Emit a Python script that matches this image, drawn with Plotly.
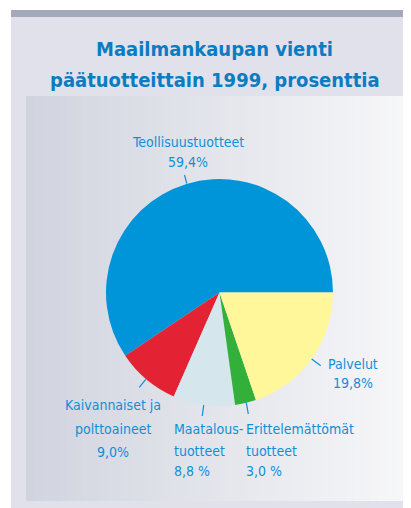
import plotly.graph_objects as go

# Page has an 8px body margin; figure sized so that it exactly fills the 411x508 window
PAGE_W, PAGE_H = 411, 508
OFF = 8
FW, FH = PAGE_W - OFF, PAGE_H - OFF

categories = ["Teollisuustuotteet", "Kaivannaiset ja polttoaineet", "Maatalous-tuotteet",
              "Erittelemättömät tuotteet", "Palvelut"]
values = [59.4, 9.0, 8.8, 3.0, 19.8]
value_labels = ["59,4%", "9,0%", "8,8 %", "3,0 %", "19,8%"]
label_lines = [["Teollisuustuotteet"], ["Kaivannaiset ja", "polttoaineet"],
               ["Maatalous-", "tuotteet"], ["Erittelemättömät", "tuotteet"], ["Palvelut"]]
colors = ["#0094d8", "#e32333", "#d5e6ed", "#33b03a", "#fff799"]
title_lines = ["Maailmankaupan vienti", "päätuotteittain 1999, prosenttia"]

LABEL_BLUE = "#0f8fd6"
TITLE_BLUE = "#0a7cc4"
FONT = "Liberation Sans Narrow, DejaVu Sans Condensed, Arial Narrow, sans-serif"


def px(x):
    """page pixel x -> paper fraction"""
    return (x - OFF) / FW


def py(y):
    """page pixel y -> paper fraction"""
    return 1 - (y - OFF) / FH


# pie geometry in page pixels
cx, cy, r = 219.5, 292.5, 113.5

# first slice should run counterclockwise starting at 3 o'clock
rotation = 90 - values[0] / sum(values) * 360

fig = go.Figure()
fig.add_trace(go.Pie(
    values=values,
    labels=categories,
    marker=dict(colors=colors, line=dict(width=0)),
    sort=False,
    direction="counterclockwise",
    rotation=rotation,
    textinfo="none",
    hoverinfo="label+value",
    showlegend=False,
    domain=dict(x=[px(cx - r), px(cx + r)], y=[py(cy + r), py(cy - r)]),
))

shapes = []
# outer panel and dark top bar
shapes.append(dict(type="rect", xref="paper", yref="paper", x0=px(11), x1=px(411),
                   y0=py(508), y1=py(10), fillcolor="#e0e1ea", line=dict(width=0), layer="below"))
shapes.append(dict(type="rect", xref="paper", yref="paper", x0=px(11), x1=px(411),
                   y0=py(17), y1=py(10), fillcolor="#a3a9ba", line=dict(width=0), layer="below"))
# inner gradient panel (stripes)
n = 48
x_start, x_end = 26, 408
c0 = (0xd1, 0xd4, 0xdf)
c1 = (0xf7, 0xf7, 0xf9)
for i in range(n):
    t = i / (n - 1)
    col = tuple(round(c0[k] + (c1[k] - c0[k]) * t) for k in range(3))
    xa = x_start + (x_end - x_start) * i / n
    xb = x_start + (x_end - x_start) * (i + 1) / n + 0.5
    shapes.append(dict(type="rect", xref="paper", yref="paper", x0=px(xa), x1=px(min(xb, x_end)),
                       y0=py(501), y1=py(96), fillcolor="rgb(%d,%d,%d)" % col,
                       line=dict(width=0), layer="below"))

# leader lines
leaders = [((184.5, 175), (186.8, 183.5)),
           ((145.7, 379.3), (139.3, 387.3)),
           ((203.7, 405), (202.3, 416)),
           ((246.3, 402.7), (248.3, 414)),
           ((311.7, 359), (320.7, 365.7))]
for (a, b) in leaders:
    shapes.append(dict(type="line", xref="paper", yref="paper", x0=px(a[0]), y0=py(a[1]),
                       x1=px(b[0]), y1=py(b[1]), line=dict(color=LABEL_BLUE, width=1.2)))

annotations = []
# title
for txt, y in zip(title_lines, [49, 80]):
    annotations.append(dict(text=txt, xref="paper", yref="paper",
                            x=px(215), y=py(y), xanchor="center", yanchor="middle",
                            showarrow=False, align="center",
                            font=dict(family=FONT, size=20, color=TITLE_BLUE, weight="bold")))

# label line positions (x, list of y per line, anchor)
label_pos = [(187.5, [142, 162], "center"),
             (112.5, [405, 429, 452], "center"),
             (172, [429, 450.5, 470.5], "left"),
             (244, [429, 450.5, 470.5], "left"),
             (352.5, [364, 383], "center")]
for lines, val, (x, ys, xa) in zip(label_lines, value_labels, label_pos):
    for txt, y in zip(lines + [val], ys):
        annotations.append(dict(text=txt, xref="paper", yref="paper",
                                x=px(x), y=py(y), xanchor=xa, yanchor="middle",
                                showarrow=False, align=xa,
                                font=dict(family=FONT, size=14, color=LABEL_BLUE)))

fig.update_layout(
    width=FW, height=FH,
    margin=dict(l=0, r=0, t=0, b=0),
    paper_bgcolor="white",
    plot_bgcolor="white",
    shapes=shapes,
    annotations=annotations,
)

fig.write_html("out.html", config={"displayModeBar": False})
